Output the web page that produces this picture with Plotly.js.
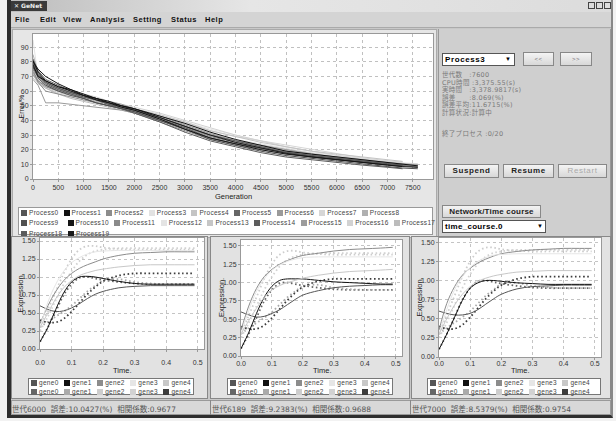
<!DOCTYPE html>
<html><head><meta charset="utf-8">
<script src="https://cdn.plot.ly/plotly-3.0.1.min.js"></script>
<style>
body{margin:0;width:616px;height:421px;overflow:hidden;background:#f2f2f2;font-family:"DejaVu Sans",sans-serif;position:relative}
.a{position:absolute;box-sizing:border-box}
.menu span{position:absolute;top:3px;font-family:"Liberation Sans",sans-serif;font-weight:bold;font-size:7.5px;letter-spacing:0.5px;color:#111}
.btn{background:linear-gradient(#f4f4f4,#d8d8d8);border:1px solid #888;font-family:"Liberation Sans",sans-serif;font-size:8px;font-weight:bold;text-align:center;color:#222;line-height:12px;letter-spacing:0.6px}
.info{position:absolute;left:442px;font-family:"DejaVu Sans","Noto Sans CJK JP",sans-serif;font-size:6.5px;color:#7a7a7a;line-height:7px;white-space:pre;letter-spacing:0.3px}
.lg{position:absolute;font-family:"Liberation Sans",sans-serif;font-size:6.5px;color:#444;white-space:nowrap;line-height:8px;letter-spacing:0.3px}
.lg i{display:inline-block;width:6px;height:6px;margin-right:2px;vertical-align:-1px}
.st{position:absolute;top:405px;font-family:"DejaVu Sans","Noto Sans CJK JP",sans-serif;font-size:7.5px;color:#555;white-space:pre;line-height:9px}
</style></head><body>
<div class="a" style="left:7px;top:0;width:606px;height:418px;background:#c8c8c8;border-left:4px solid #2e2e2e;border-bottom:3px solid #2e2e2e;border-right:2px solid #888"></div>
<div class="a" style="left:11px;top:0;width:600px;height:12px;background:linear-gradient(90deg,#bdbdbd,#e6e6e6 40%,#dcdcdc)"></div>
<div class="a" style="left:11px;top:1px;width:36px;height:10px;background:#3a3a3a;color:#eee;font-size:6px;font-weight:bold;line-height:10px;padding-left:3px">✕ GeNet</div>
<div class="a" style="left:588px;top:2px;width:7px;height:7px;border:1px solid #444;background:#ddd"></div>
<div class="a" style="left:596px;top:2px;width:7px;height:7px;border:1px solid #444;background:#ddd"></div>
<div class="a" style="left:604px;top:2px;width:7px;height:7px;border:1px solid #444;background:#ddd"></div>
<div class="a menu" style="left:11px;top:12px;width:600px;height:16px;background:#d4d4d4;border-bottom:1px solid #aaa">
<span style="left:4px">File</span><span style="left:29px">Edit</span><span style="left:52px">View</span><span style="left:79px">Analysis</span><span style="left:122px">Setting</span><span style="left:160px">Status</span><span style="left:194px">Help</span>
</div>
<div class="a" style="left:12px;top:29px;width:425px;height:209px;background:#e6e6e6;border:1px solid #aaa"></div>
<div id="top" class="a" style="left:12px;top:29px;width:425px;height:178px"></div>
<div id="topLegend" class="a" style="left:18px;top:207px;width:415px;height:28px;background:#fff;border:1px solid #999"></div>
<div class="a" style="left:438px;top:29px;width:173px;height:209px;background:#cfcfcf;border-left:1px solid #999;border-right:1px solid #999"></div>
<div class="a" style="left:442px;top:53px;width:73px;height:13px;background:#fff;border:1px solid #555;font-family:'Liberation Sans',sans-serif;font-size:8px;font-weight:bold;line-height:11px;padding-left:2px;letter-spacing:0.6px">Process3<span style="position:absolute;left:62px;font-size:6px">▼</span></div>
<div class="a btn" style="left:523px;top:52px;width:31px;height:14px;font-weight:normal;color:#777;font-size:6px">&lt;&lt;</div>
<div class="a btn" style="left:560px;top:52px;width:32px;height:14px;font-weight:normal;color:#777;font-size:6px">&gt;&gt;</div>
<div class="a btn" style="left:444px;top:164px;width:55px;height:14px">Suspend</div>
<div class="a btn" style="left:503px;top:164px;width:51px;height:14px">Resume</div>
<div class="a btn" style="left:558px;top:164px;width:49px;height:14px;color:#aaa;font-weight:normal">Restart</div>
<div class="a btn" style="left:442px;top:205px;width:99px;height:13px;letter-spacing:0.2px">Network/Time course</div>
<div class="a" style="left:442px;top:220px;width:104px;height:13px;background:#fff;border:1px solid #555;font-family:'Liberation Sans',sans-serif;font-size:8px;font-weight:bold;line-height:11px;padding-left:2px;letter-spacing:0.3px">time_course.0<span style="position:absolute;left:94px;font-size:6px">▼</span></div>
<div class="a" style="left:11px;top:236px;width:197px;height:163px;background:#e2e2e2;border:1px solid #888"></div>
<div class="a" style="left:210px;top:236px;width:200px;height:163px;background:#e2e2e2;border:1px solid #888"></div>
<div class="a" style="left:411px;top:236px;width:200px;height:163px;background:#e2e2e2;border:1px solid #888"></div>
<div id="c0" class="a" style="left:12px;top:236px;width:195px;height:140px"></div>
<div id="c1" class="a" style="left:212px;top:236px;width:196px;height:140px"></div>
<div id="c2" class="a" style="left:413px;top:236px;width:197px;height:140px"></div>
<div id="gl0" class="a" style="left:28px;top:378px;width:166px;height:17px;background:#fff;border:1px solid #777"></div>
<div id="gl1" class="a" style="left:227px;top:378px;width:166px;height:17px;background:#fff;border:1px solid #777"></div>
<div id="gl2" class="a" style="left:427px;top:378px;width:174px;height:17px;background:#fff;border:1px solid #777"></div>
<div class="a" style="left:11px;top:400px;width:600px;height:15px;background:#d8d8d8;border:1px solid #999"></div>
<div class="a" style="left:210px;top:400px;width:1px;height:15px;background:#888"></div>
<div class="a" style="left:410px;top:400px;width:1px;height:15px;background:#888"></div>
<script>
// ---------- Top chart data (Error % vs Generation) ----------
const generations=[0,100,250,500,750,1000,1250,1500,1750,2000,2500,3000,3500,4000,4500,5000,5500,6000,6500,7000,7300,7600];
const proc0 =[80,72,66,62,59,57,55,52,50,47,42,36,30,26,22,18,16,14,12,10.5,9.5,null];
const proc1 =[78,70,67,63,61,58,55,53,50,48,43,38,32,27,23,19,17,15,13,11,10,9];
const proc2 =[75,66,60,58,56,54,52,50,48,45,39,33,27,23,20,17,15,13,11.5,10,9.5,null];
const proc3 =[70,68,65,60,57,55,53,51,49,46,42,37,31,27,24,21,18,16,14,12,11,10.5];
const proc4 =[72,65,62,59,57,56,54,52,50,48,44,39,33,29,25,22,19,17,15,13,12,null];
const proc5 =[82,74,68,64,60,57,54,51,48,46,40,34,28,24,21,18,16,14,12,10,9,8];
const proc6 =[68,64,52,52,51,50,49,48,47,45,40,35,30,26,23,20,17,15,13,11,10,9.5];
const proc7 =[74,70,66,62,58,55,53,50,49,47,43,38,33,29,26,23,20,17,14.5,12.5,11.5,null];
const proc8 =[85,73,66,61,58,56,53,51,49,46,41,35,29,25,22,19,16.5,14.5,12.5,11,10,null];
const proc9 =[77,69,64,60,57,55,52,50,48,46,40,34,27,23,19,16,14,12,10,8.5,7.5,7];
const proc10=[80,75,70,65,61,57,54,52,49,47,41,34,28,24,20,17,15,13,11,9.5,8.5,null];
const proc11=[73,67,63,60,58,56,54,51,49,47,42,36,29,25,21,18,15.5,13.5,11.5,10,9,8.5];
const proc12=[95,70,64,60,58,56,53,51,49,47,43,39,34,30,26,22,19,16,14,12,11,null];
const proc13=[69,66,63,60,58,55,53,51,49,47,42,37,31,26,22,19,16,14,12,10.5,9.5,9];
const proc14=[76,70,65,61,58,55,52,50,48,45,39,32,26,22,18,15,13,11,9.5,8,7,null];
const proc15=[71,67,64,61,59,57,55,53,51,48,43,37,31,26,22,19,16.5,14.5,12.5,11,10,9.5];
const proc16=[73,68,65,62,60,58,56,53,51,49,45,40,35,30,26,22,19,16,13.5,11.5,10.5,null];
const proc17=[72,66,62,58,55,53,51,49,47,45,41,36,30,26,23,20,17.5,15,13,11.5,10.5,10];
const proc18=[79,71,66,62,59,56,54,51,49,47,41,35,28,24,21,18,15.5,13.5,11.5,10,9,null];
const proc19=[81,73,67,63,60,57,55,52,50,48,42,36,30,25,21,17.5,15,13,11,9.5,8.5,8];
const processNames=['Process0','Process1','Process2','Process3','Process4','Process5','Process6','Process7','Process8','Process9','Process10','Process11','Process12','Process13','Process14','Process15','Process16','Process17','Process18','Process19'];
const processColors=['#555555','#111111','#8c8c8c','#e2e2e2','#c4c4c4','#666666','#9a9a9a','#d6d6d6','#b0b0b0','#505050','#151515','#8a8a8a','#e4e4e4','#c6c6c6','#5c5c5c','#9c9c9c','#d2d2d2','#bcbcbc','#5a5a5a','#1a1a1a'];
const genTicks=[0,500,1000,1500,2000,2500,3000,3500,4000,4500,5000,5500,6000,6500,7000,7500];
const errTicks=[0,10,20,30,40,50,60,70,80,90];

// ---------- Time course data (Expression vs Time) ----------
const timePoints=[0,0.025,0.05,0.075,0.1,0.125,0.15,0.175,0.2,0.25,0.3,0.35,0.4,0.45,0.49];
// observed (dotted)
const obsGene0=[0.10,0.30,0.52,0.75,0.90,0.99,1.00,0.98,0.96,0.93,0.91,0.90,0.90,0.90,0.90];
const obsGene1=[0.30,0.38,0.45,0.52,0.60,0.70,0.80,0.88,0.95,0.97,0.93,0.91,0.90,0.90,0.90];
const obsGene2=[0.30,0.55,0.80,1.05,1.25,1.38,1.43,1.43,1.41,1.39,1.38,1.38,1.38,1.38,1.38];
const obsGene3=[0.25,0.45,0.68,0.90,1.08,1.22,1.31,1.36,1.38,1.40,1.40,1.40,1.40,1.40,1.40];
const obsGene4=[0.40,0.37,0.37,0.42,0.52,0.64,0.76,0.86,0.94,1.02,1.05,1.05,1.05,1.05,1.05];
// simulated, generation 6000
const sim6000Gene0=[0.60,0.55,0.52,0.53,0.57,0.63,0.70,0.76,0.80,0.85,0.87,0.88,0.88,0.88,0.88];
const sim6000Gene1=[0.10,0.30,0.55,0.78,0.93,1.00,1.01,1.00,0.98,0.94,0.91,0.90,0.90,0.90,0.90];
const sim6000Gene2=[0.35,0.60,0.80,0.95,1.05,1.12,1.17,1.21,1.25,1.30,1.33,1.34,1.35,1.35,1.35];
const sim6000Gene3=[0.30,0.65,0.90,1.08,1.20,1.27,1.32,1.35,1.36,1.37,1.37,1.37,1.37,1.37,1.37];
const sim6000Gene4=[0.30,0.50,0.70,0.85,0.95,1.02,1.06,1.09,1.11,1.14,1.16,1.17,1.17,1.17,1.17];
// simulated, generation 6189
const sim6189Gene0=[0.60,0.56,0.53,0.54,0.58,0.63,0.70,0.77,0.83,0.89,0.93,0.95,0.96,0.97,0.97];
const sim6189Gene1=[0.10,0.32,0.58,0.80,0.95,1.03,1.05,1.05,1.05,1.03,1.01,1.00,0.99,0.98,0.98];
const sim6189Gene2=[0.35,0.68,0.92,1.08,1.18,1.25,1.30,1.34,1.37,1.40,1.43,1.45,1.46,1.47,1.48];
const sim6189Gene3=[0.30,0.62,0.88,1.05,1.17,1.24,1.29,1.32,1.34,1.35,1.35,1.35,1.35,1.35,1.35];
const sim6189Gene4=[0.30,0.48,0.65,0.80,0.90,0.96,1.00,1.03,1.06,1.10,1.13,1.15,1.16,1.17,1.18];
// simulated, generation 7000
const sim7000Gene0=[0.60,0.57,0.55,0.55,0.57,0.62,0.69,0.76,0.82,0.89,0.92,0.93,0.94,0.94,0.94];
const sim7000Gene1=[0.10,0.30,0.52,0.74,0.90,0.97,1.00,1.00,0.99,0.97,0.96,0.95,0.95,0.95,0.95];
const sim7000Gene2=[0.35,0.70,0.92,1.07,1.16,1.23,1.28,1.32,1.35,1.38,1.40,1.41,1.42,1.42,1.42];
const sim7000Gene3=[0.30,0.62,0.88,1.05,1.17,1.25,1.30,1.33,1.34,1.35,1.35,1.35,1.35,1.35,1.35];
const sim7000Gene4=[0.30,0.50,0.68,0.82,0.92,0.99,1.03,1.06,1.08,1.11,1.12,1.13,1.13,1.13,1.13];
const geneNames=['gene0','gene1','gene2','gene3','gene4'];
const simColors=['#555555','#111111','#8c8c8c','#e6e6e6','#c8c8c8'];
const obsColors=['#666666','#aaaaaa','#cdcdcd','#d2d2d2','#3c3c3c'];
const expTicks=[0,0.25,0.5,0.75,1,1.25,1.5];
const timeTicks=[0,0.1,0.2,0.3,0.4,0.5];
const statusTexts=['世代6000  誤差:10.0427(%)  相関係数:0.9677','世代6189  誤差:9.2383(%)  相関係数:0.9688','世代7000  誤差:8.5379(%)  相関係数:0.9754'];
const infoLines=['世代数　:7600','CPU時間 :3,375.55(s)','実時間　:3,378.9817(s)','誤差　　:8.069(%)','誤差平均:11.6715(%)','計算状況:計算中'];
const finishedText='終了プロセス :0/20';

// ---------- build ----------
const procSeries=[proc0,proc1,proc2,proc3,proc4,proc5,proc6,proc7,proc8,proc9,proc10,proc11,proc12,proc13,proc14,proc15,proc16,proc17,proc18,proc19];
const cfg={staticPlot:true,displayModeBar:false};
const tickFont={family:'Liberation Sans',size:7,color:'#333'};
const titleFont={family:'Liberation Sans',size:7.5,color:'#222'};

const topTraces=procSeries.map((ys,i)=>({x:generations,y:ys,type:'scatter',mode:'lines',name:processNames[i],
  line:{color:processColors[i],width:1},connectgaps:false}));
topTraces.sort((a,b)=>parseInt(b.line.color.slice(1,3),16)-parseInt(a.line.color.slice(1,3),16));
Plotly.newPlot('top',topTraces,{
  width:425,height:178,margin:{l:21,r:4,t:5,b:28},
  paper_bgcolor:'rgba(0,0,0,0)',plot_bgcolor:'#ffffff',showlegend:false,
  xaxis:{range:[0,7900],tickvals:genTicks,tickfont:tickFont,gridcolor:'#c0c0c0',griddash:'dot',gridwidth:1,
    zeroline:false,showline:true,linecolor:'#999',mirror:true,ticks:'outside',ticklen:2,tickcolor:'#999'},
  yaxis:{range:[0,99],tickvals:errTicks,tickfont:tickFont,gridcolor:'#c0c0c0',griddash:'dot',gridwidth:1,
    zeroline:false,showline:true,linecolor:'#999',mirror:true,ticks:'outside',ticklen:2,tickcolor:'#999'},
  annotations:[
    {text:'Generation',xref:'paper',yref:'paper',x:0.5,y:0,yshift:-17,showarrow:false,font:titleFont,yanchor:'middle'},
    {text:'Error/%',xref:'paper',yref:'paper',x:0,y:0.5,xshift:-12,showarrow:false,font:{family:'Liberation Sans',size:7,color:'#222'},textangle:-90,xanchor:'center'}
  ]
},cfg);

// top legend
const tl=document.getElementById('topLegend');
const rowSteps=[42.6,46.6,47];
processNames.forEach((n,i)=>{
  const row=i<9?0:(i<18?1:2); const start=[0,9,18][row];
  const col=i-start;
  const d=document.createElement('div');d.className='lg';
  d.style.left=(2+col*rowSteps[row])+'px';d.style.top=(1+row*10.3)+'px';
  d.innerHTML='<i style="background:'+processColors[i]+'"></i>'+n;tl.appendChild(d);
});

// info lines
const infoTops=[72,79.6,87.2,94.8,102.4,110];
infoLines.forEach((t,i)=>{const d=document.createElement('div');d.className='info';d.style.top=infoTops[i]+'px';d.textContent=t;document.body.appendChild(d);});
{const d=document.createElement('div');d.className='info';d.style.top='131px';d.textContent=finishedText;document.body.appendChild(d);}

// bottom charts
const simSets=[[sim6000Gene0,sim6000Gene1,sim6000Gene2,sim6000Gene3,sim6000Gene4],
  [sim6189Gene0,sim6189Gene1,sim6189Gene2,sim6189Gene3,sim6189Gene4],
  [sim7000Gene0,sim7000Gene1,sim7000Gene2,sim7000Gene3,sim7000Gene4]];
const obsSet=[obsGene0,obsGene1,obsGene2,obsGene3,obsGene4];
const geo=[
  {w:195,l:28,r:3,t:2,b:27,ymax:1.542,tshift:-21.5,std:5},
  {w:196,l:29,r:6,t:4,b:20,ymax:1.58,tshift:-14.5,std:-1},
  {w:197,l:25.5,r:8.5,t:2,b:19,ymax:1.556,tshift:-13.5,std:-2}];
simSets.forEach((sims,k)=>{
  const tr=[];
  obsSet.forEach((ys,i)=>tr.push({x:timePoints,y:ys,type:'scatter',mode:'lines',line:{color:obsColors[i],width:1.8,dash:'1.6px,2.6px',shape:'spline'}}));
  sims.forEach((ys,i)=>tr.push({x:timePoints,y:ys,type:'scatter',mode:'lines',line:{color:simColors[i],width:1,shape:'spline'}}));
  const g=geo[k];
  Plotly.newPlot('c'+k,tr,{
    width:g.w,height:140,margin:{l:g.l,r:g.r,t:g.t,b:g.b},
    paper_bgcolor:'rgba(0,0,0,0)',plot_bgcolor:'#ffffff',showlegend:false,
    xaxis:{range:[0,0.52],tickvals:timeTicks,tickformat:'.1f',tickfont:tickFont,gridcolor:'#c4c4c4',griddash:'dot',
      zeroline:false,showline:true,linecolor:'#999',mirror:true,ticks:'outside',ticklen:2,tickcolor:'#999',ticklabelstandoff:g.std},
    yaxis:{range:[0,g.ymax],tickvals:expTicks,tickformat:'.2f',tickfont:tickFont,gridcolor:'#c4c4c4',griddash:'dot',
      zeroline:false,showline:true,linecolor:'#999',mirror:true,ticks:'outside',ticklen:2,tickcolor:'#999'},
    annotations:[
      {text:'Time.',xref:'paper',yref:'paper',x:0.5,y:0,yshift:g.tshift,showarrow:false,font:titleFont,yanchor:'middle'},
      {text:'Expression.',xref:'paper',yref:'paper',x:0,y:0.5,xshift:-20,showarrow:false,font:titleFont,textangle:-90,xanchor:'center'}
    ]
  },cfg);
  const box=document.getElementById('gl'+k);
  geneNames.forEach((n,i)=>{
    [[simColors,0],[obsColors,1]].forEach(([cols,row])=>{
      const d=document.createElement('div');d.className='lg';
      d.style.left=(2+i*33.1)+'px';d.style.top=(0+row*8.6)+'px';
      d.innerHTML='<i style="background:'+cols[i]+'"></i>'+n;box.appendChild(d);
    });
  });
  const s=document.createElement('div');s.className='st';s.style.left=[12,212,412][k]+'px';s.textContent=statusTexts[k];document.body.appendChild(s);
});
</script>
</body></html>
